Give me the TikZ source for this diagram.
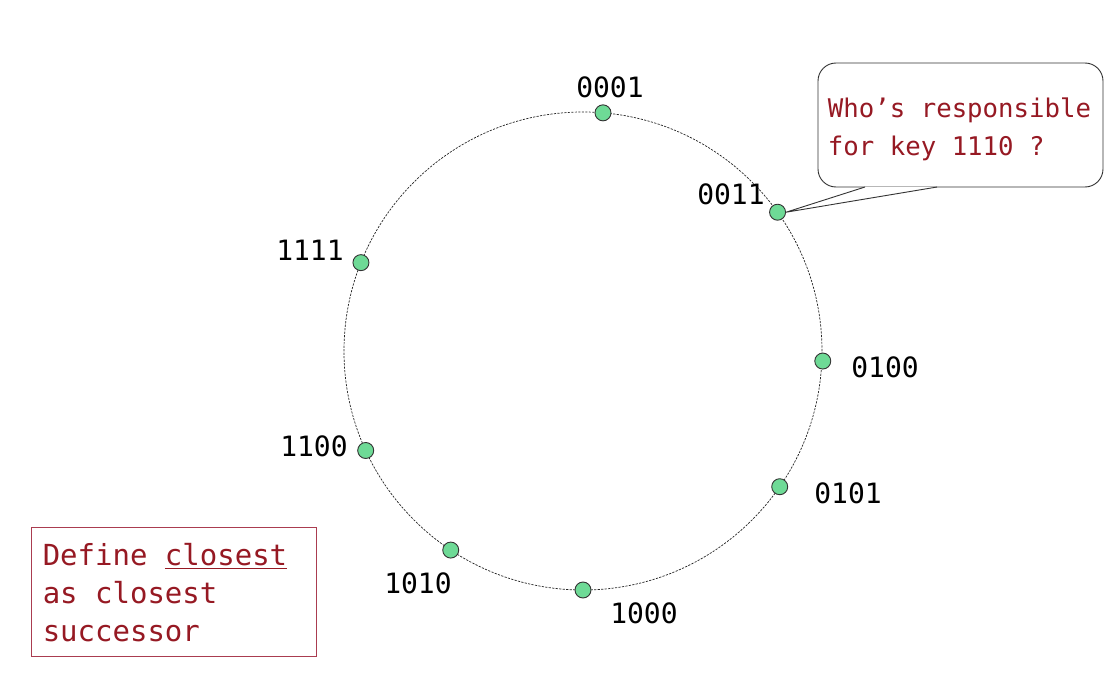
\documentclass[tikz,border=0pt]{standalone}
\usepackage{fontspec}
\setmonofont{DejaVu Sans Mono}
\definecolor{nodegreen}{RGB}{110,218,150}
\definecolor{notered}{RGB}{150,25,35}
\definecolor{boxred}{RGB}{170,60,80}
\begin{document}
\begin{tikzpicture}[x=1pt,y=1pt,
    n/.style={circle,draw=black!80,fill=nodegreen,line width=0.9pt,minimum size=16pt,inner sep=0pt},
    lbl/.style={font=\ttfamily\fontsize{28}{34}\selectfont,inner sep=0pt},
    note/.style={font=\ttfamily\fontsize{26}{38}\selectfont,text=notered,align=left,inner sep=0pt}]
                \useasboundingbox (-583,-327) rectangle (533,351);
                \fill[white] (-583,-327) rectangle (533,351);

                \draw[black!85,dashed,dash pattern=on 2.2pt off 1.3pt,line width=0.7pt] (0,0) circle (239);

                \node[n] (0001) at (85.2:239) {};
                \node[n] (0011) at (35.5:239) {};
                \node[n] (0100) at (-2.4:240) {};
                \node[n] (0101) at (-34.6:239) {};
                \node[n] (1000) at (-90:239) {};
                \node[n] (1010) at (236.4:239) {};
                \node[n] (1100) at (204.6:239) {};
                \node[n] (1111) at (158.3:239) {};

                \node[lbl] (l0001) at (27,264) {0001};
                \node[lbl] (l0011) at (148,157) {0011};
                \node[lbl] (l0100) at (302,-16) {0100};
                \node[lbl] (l0101) at (265,-142) {0101};
                \node[lbl] (l1000) at (61,-262) {1000};
                \node[lbl] (l1010) at (-165,-232) {1010};
                \node[lbl] (l1100) at (-269,-95) {1100};
                \node[lbl] (l1111) at (-273,101) {1111};

                % callout
                \node[draw=black!80,line width=0.9pt,fill=white,rounded corners=18pt,minimum width=285pt,minimum height=124pt] (ask) at (377.5,226) {};
                \node[note,font=\ttfamily\fontsize{25.7}{38}\selectfont] (asktext) at (376.5,222) {Who’s responsible\\for key 1110 ?};
                \coordinate (t1) at (282,164);
                \coordinate (t2) at (354,164);
                \fill[white] (t1) -- (0011.east) -- (t2) -- cycle;
                \draw[black!80,line width=0.9pt] (t1) -- (0011.east) -- (t2);

                % definition box
                \node[draw=boxred,line width=0.9pt,minimum width=285pt,minimum height=129pt] (def) at (-409.5,-240.5) {};
                \node[note,font=\ttfamily\fontsize{29}{38}\selectfont] (deftext) at (-418,-242) {Define \underline{closest}\\as closest\\successor};
            \end{tikzpicture}
\end{document}
